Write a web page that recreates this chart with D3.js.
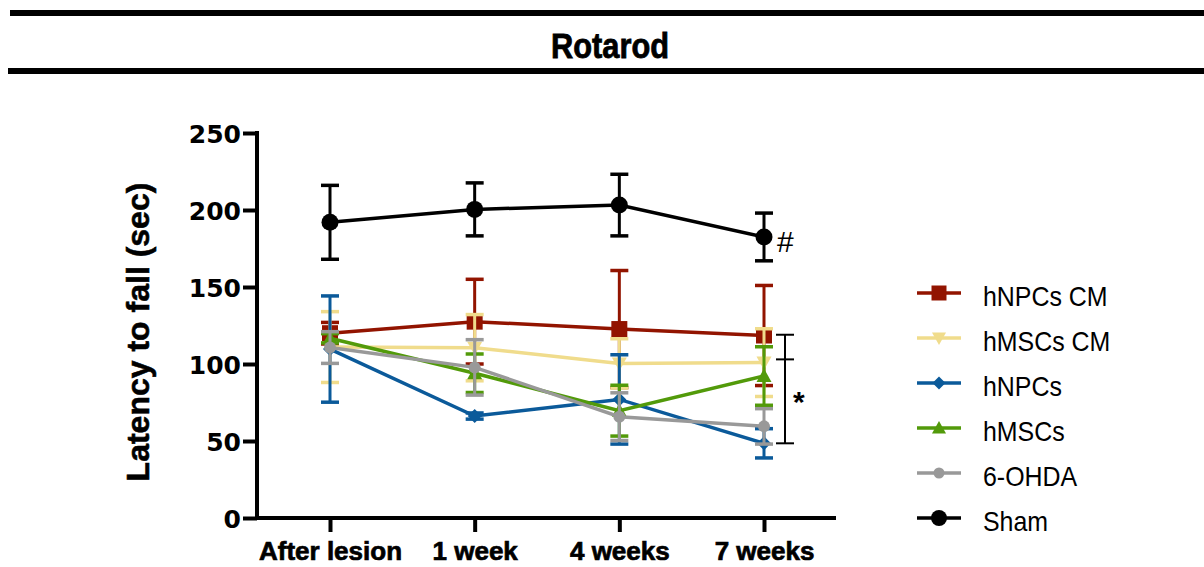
<!DOCTYPE html>
<html><head><meta charset="utf-8">
<script src="https://cdn.jsdelivr.net/npm/d3@7"></script>
<style>body{margin:0;background:#fff}svg{display:block}</style>
</head><body>
<svg id="c" width="1204" height="567"></svg>
<script>
const categories = ["After lesion", "1 week", "4 weeks", "7 weeks"];
const seriesNames = ["hNPCs CM", "hMSCs CM", "hNPCs", "hMSCs", "6-OHDA", "Sham"];
const meanNPCsCM = [120, 127.5, 122.7, 118.5];
const errNPCsCM  = [7, 27.5, 38, 32.5];
const meanMSCsCM = [111, 110.6, 100.4, 100.9];
const errMSCsCM  = [23, 21.5, 16, 22];
const meanNPCs   = [109.7, 66.2, 77, 48.5];
const errNPCs    = [34.5, 2, 29, 9.5];
const meanMSCs   = [116.7, 94, 69.7, 92.2];
const errMSCs    = [3, 12.5, 16.5, 19];
const meanOHDA   = [110.7, 97.8, 65.8, 59.5];
const errOHDA    = [10.3, 18, 15.5, 11.5];
const meanSham   = [192, 200.4, 203.2, 182.5];
const errSham    = [24, 17.2, 20, 15.5];
const yTicks = [0, 50, 100, 150, 200, 250];
const bracketValues = [119, 103, 48.5];
const shamMark = "#";
const starMark = "*";

const means = [meanNPCsCM, meanMSCsCM, meanNPCs, meanMSCs, meanOHDA, meanSham];
const errs  = [errNPCsCM, errMSCsCM, errNPCs, errMSCs, errOHDA, errSham];
const colors = ["#921400", "#f0dc8c", "#0b5a9a", "#529a0a", "#999999", "#000000"];
const shapes = ["square", "tridown", "diamond", "triup", "circle", "circle"];
const sizes  = [16, 15, 14, 15, 12, 17];

const svg = d3.select("#c");
const x = d3.scalePoint().domain(categories).range([330, 764]);
const y = d3.scaleLinear().domain([0, 250]).range([518, 133]);

// header rules and title
svg.append("rect").attr("x", 10).attr("y", 10).attr("width", 1194).attr("height", 6).attr("fill", "#000");
svg.append("rect").attr("x", 8).attr("y", 68).attr("width", 1196).attr("height", 6).attr("fill", "#000");
svg.append("text").attr("transform", "translate(610,58) scale(0.88,1)").attr("text-anchor", "middle")
  .attr("font-family", "Liberation Sans, Arial").attr("font-weight", "bold")
  .attr("font-size", 35).attr("stroke", "#000").attr("stroke-width", 0.8).text("Rotarod");

// axes
const yAxis = d3.axisLeft(y).tickValues(yTicks).tickSize(14).tickPadding(2);
const gy = svg.append("g").attr("transform", "translate(257,0)").call(yAxis);
gy.select(".domain").remove();
gy.selectAll(".tick line").attr("stroke", "#000").attr("stroke-width", 4);
gy.selectAll(".tick text").attr("font-family", "DejaVu Sans, sans-serif").attr("font-weight", "bold")
  .attr("font-size", 25).attr("fill", "#000").attr("dy", "0.36em");
svg.append("line").attr("x1", 257).attr("x2", 257).attr("y1", 131).attr("y2", 520)
  .attr("stroke", "#000").attr("stroke-width", 4);

const xAxis = d3.axisBottom(x).tickSize(14);
const gx = svg.append("g").attr("transform", "translate(0,518)").call(xAxis);
gx.select(".domain").remove();
gx.selectAll(".tick line").attr("stroke", "#000").attr("stroke-width", 4);
gx.selectAll(".tick text").attr("font-family", "Liberation Sans, Arial").attr("font-weight", "bold")
  .attr("font-size", 26).attr("fill", "#000").attr("stroke", "#000").attr("stroke-width", 0.7)
  .attr("y", 42).attr("dy", 0);
svg.append("line").attr("x1", 255).attr("x2", 836).attr("y1", 518).attr("y2", 518)
  .attr("stroke", "#000").attr("stroke-width", 4);

svg.append("text").attr("transform", "translate(149,332) rotate(-90)").attr("text-anchor", "middle")
  .attr("font-family", "Liberation Sans, Arial").attr("font-weight", "bold").attr("font-size", 32)
  .attr("stroke", "#000").attr("stroke-width", 0.6)
  .text("Latency to fall (sec)");

function shapePath(s, sz) {
  const h = sz / 2;
  if (s === "square") return `M${-h},${-h}H${h}V${h}H${-h}Z`;
  if (s === "diamond") return `M0,${-h}L${h},0L0,${h}L${-h},0Z`;
  if (s === "triup") return `M0,${-h}L${h},${h * 0.8}L${-h},${h * 0.8}Z`;
  if (s === "tridown") return `M0,${h}L${h},${-h * 0.8}L${-h},${-h * 0.8}Z`;
  return d3.arc()({innerRadius: 0, outerRadius: h, startAngle: 0, endAngle: 2 * Math.PI});
}

const line = d3.line().x((d, i) => x(categories[i])).y(d => y(d));
means.forEach((m, si) => {
  const g = svg.append("g");
  const c = colors[si];
  m.forEach((v, i) => {
    const cx = x(categories[i]);
    const e = errs[si][i];
    g.append("line").attr("x1", cx).attr("x2", cx).attr("y1", y(v + e)).attr("y2", y(v - e))
      .attr("stroke", c).attr("stroke-width", 3);
    [v + e, v - e].forEach(w => g.append("line").attr("x1", cx - 9).attr("x2", cx + 9)
      .attr("y1", y(w)).attr("y2", y(w)).attr("stroke", c).attr("stroke-width", 3.5));
  });
  g.append("path").attr("d", line(m)).attr("fill", "none").attr("stroke", c).attr("stroke-width", 3.5);
  m.forEach((v, i) => {
    g.append("path").attr("d", shapePath(shapes[si], sizes[si]))
      .attr("transform", `translate(${x(categories[i])},${y(v)})`).attr("fill", c);
  });
});

// annotations
const last = x(categories[3]);
svg.append("text").attr("x", last + 13).attr("y", y(meanSham[3]) + 15)
  .attr("font-family", "Liberation Sans, Arial").attr("font-size", 30).text(shamMark);
const bx = last + 21;
svg.append("line").attr("x1", bx).attr("x2", bx).attr("y1", y(bracketValues[0])).attr("y2", y(bracketValues[2]))
  .attr("stroke", "#000").attr("stroke-width", 2);
bracketValues.forEach(v => svg.append("line").attr("x1", bx - 9).attr("x2", bx + 9)
  .attr("y1", y(v)).attr("y2", y(v)).attr("stroke", "#000").attr("stroke-width", 2));
svg.append("text").attr("x", bx + 8).attr("y", 412)
  .attr("font-family", "Liberation Sans, Arial").attr("font-weight", "bold").attr("font-size", 30).text(starMark);

// legend
seriesNames.forEach((n, si) => {
  const ly = 293 + si * 45;
  const g = svg.append("g").attr("transform", `translate(0,${ly})`);
  g.append("line").attr("x1", 917).attr("x2", 961).attr("stroke", colors[si]).attr("stroke-width", 3.5);
  g.append("path").attr("d", shapePath(shapes[si], sizes[si] - 1)).attr("transform", "translate(939,0)").attr("fill", colors[si]);
  g.append("text").attr("transform", "translate(983,13) scale(0.89,1)").attr("font-family", "Liberation Sans, Arial")
    .attr("font-size", 28).attr("fill", "#000").text(n);
});
</script>
</body></html>
